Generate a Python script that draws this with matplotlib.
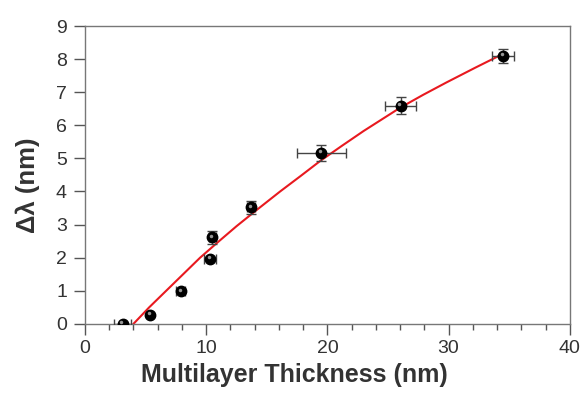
import matplotlib
matplotlib.use("Agg")
import matplotlib.pyplot as plt
from matplotlib.ticker import MultipleLocator

plt.rcParams['font.family'] = ['Liberation Sans', 'DejaVu Sans']

# data points
thickness = [3.1, 5.35, 7.9, 10.3, 10.5, 13.7, 19.5, 26.05, 34.5]
shift = [0.0, 0.28, 0.98, 1.97, 2.62, 3.52, 5.16, 6.59, 8.1]
thickness_err = [0.7, 0.0, 0.35, 0.5, 0.3, 0.35, 2.0, 1.3, 0.9]
shift_err = [0.0, 0.0, 0.0, 0.0, 0.2, 0.2, 0.25, 0.25, 0.22]

# fit curve
fit_x = [4.0, 5.3, 6.7, 8.1, 9.5, 11.0, 12.5, 14.3, 16.1, 17.8, 19.4, 21.2,
         23.0, 24.5, 26.0, 27.9, 29.8, 32.2, 34.5]
fit_y = [0.0, 0.5, 1.0, 1.5, 2.0, 2.48, 2.95, 3.48, 4.0, 4.47, 4.92, 5.38,
         5.83, 6.18, 6.53, 6.92, 7.29, 7.74, 8.16]

fig = plt.figure(figsize=(5.82, 3.94), dpi=100)
ax = fig.add_axes([0.146, 0.178, 0.833, 0.756])

ax.plot(fit_x, fit_y, color='#e8191f', lw=1.5, zorder=2)
ax.errorbar(thickness, shift, xerr=thickness_err, yerr=shift_err, fmt='none',
            ecolor='#444444', elinewidth=1.0, capsize=3.5, capthick=1.0, zorder=3)
ax.plot(thickness, shift, 'o', color='black', ms=7.5, zorder=4)
ax.plot([t - 0.1 for t in thickness], [s + 0.05 for s in shift], 'o',
        color='#bbbbbb', ms=2.5, mec='none', alpha=0.8, zorder=5)

ax.set_xlim(0, 40)
ax.set_ylim(0, 9)
ax.xaxis.set_major_locator(MultipleLocator(10))
ax.xaxis.set_minor_locator(MultipleLocator(2))
ax.yaxis.set_major_locator(MultipleLocator(1))

for s in ax.spines.values():
    s.set_color('#777777')
    s.set_linewidth(1.0)
ax.tick_params(axis='both', which='both', direction='out', colors='#555555',
               labelcolor='#333333', labelsize=14, top=False, right=False)
ax.tick_params(axis='x', which='major', length=8, width=1.0)
ax.tick_params(axis='x', which='minor', length=4, width=1.0)
ax.tick_params(axis='y', which='major', length=8, width=1.0, pad=5)

ax.set_xlabel('Multilayer Thickness (nm)', fontsize=18, fontweight='bold',
              color='#333333')
ax.xaxis.set_label_coords(0.432, -0.131)
ax.xaxis.label.set_va('top')
ax.set_ylabel('Δλ (nm)', fontsize=18.5, fontweight='bold', color='#333333')
ax.yaxis.set_label_coords(-0.118, 0.466)
ax.yaxis.label.set_va('center')

fig.savefig('out.png', dpi=100)
